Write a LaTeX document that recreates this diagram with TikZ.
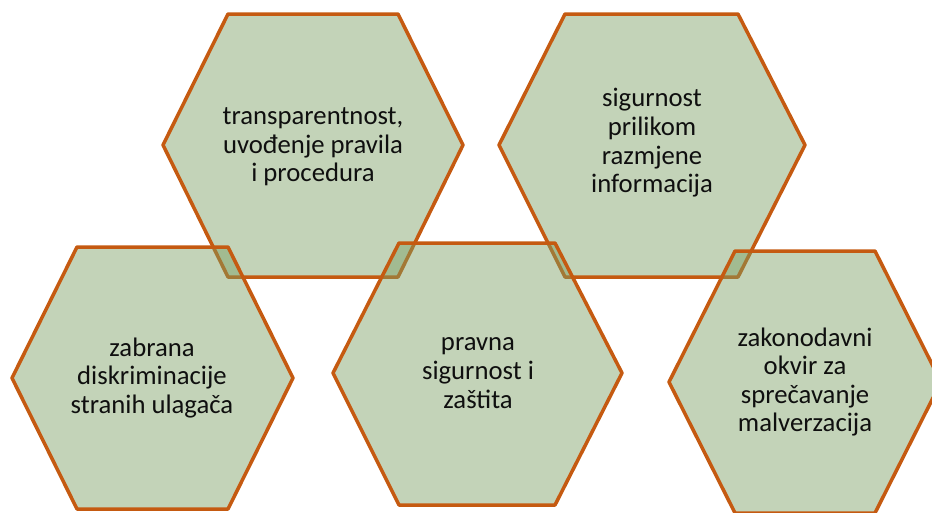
\documentclass[tikz,border=0pt]{standalone}
\usepackage{fontspec}
\setmainfont{Carlito}
\usepackage{tikz}
\usetikzlibrary{calc}

\definecolor{hexline}{RGB}{197,90,17}
\definecolor{hexfill}{RGB}{122,157,97}
\definecolor{hextext}{RGB}{15,15,15}

\begin{document}
\begin{tikzpicture}[x=0.02cm,y=-0.02cm,
		hexa/.style={draw=hexline,line width=2pt,line join=round,fill=hexfill,fill opacity=0.45},
		txt/.style={align=center,text=hextext,font=\fontsize{15.2}{16.3}\selectfont}]
			\useasboundingbox (0,0) rectangle (932,512);
			
			% top row
			\draw[hexa] (228,14)--(398,14)--(463,145)--(398,277)--(228,277)--(163,145)--cycle;
			\draw[hexa] (565,14)--(738,14)--(805,145)--(738,277)--(565,277)--(499,145)--cycle;
			% bottom row
			\draw[hexa] (77,247)--(228,247)--(293,378)--(228,509)--(77,509)--(12,378)--cycle;
			\draw[hexa] (399,243)--(555,243)--(622,373)--(555,505)--(399,505)--(333,373)--cycle;
			\draw[hexa] (735,251)--(875,251)--(941,382)--(875,513)--(735,513)--(669,382)--cycle;
			
			\node[txt] (transp) at (313,147) {transparentnost,\\uvođenje pravila\\i procedura};
			\node[txt] (sigurn) at (652,143) {sigurnost\\prilikom\\razmjene\\informacija};
			\node[txt] (zabrana) at (152,378) {zabrana\\diskriminacije\\stranih ulagača};
			\node[txt] (pravna) at (478,373) {pravna\\sigurnost i\\zaštita};
			\node[txt] (zakon) at (805,382) {zakonodavni\\okvir za\\sprečavanje\\malverzacija};
		\end{tikzpicture}
\end{document}
